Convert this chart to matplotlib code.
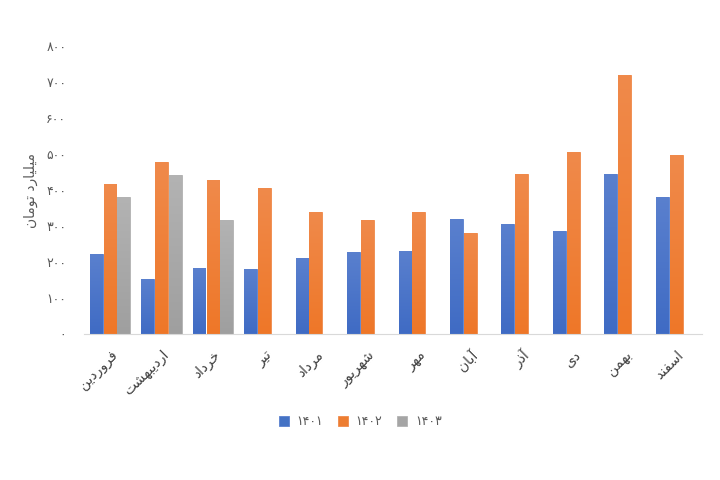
import numpy as np
import matplotlib
matplotlib.use('Agg')
import matplotlib.pyplot as plt
from matplotlib.colors import LinearSegmentedColormap

# ماه‌ها و مقادیر (میلیارد تومان)
months = ['فروردین', 'اردیبهشت', 'خرداد', 'تیر', 'مرداد', 'شهریور',
          'مهر', 'آبان', 'آذر', 'دی', 'بهمن', 'اسفند']
v1401 = [222, 154, 184, 180, 211, 228, 231, 319, 306, 286, 444, 381]
v1402 = [418, 479, 429, 406, 339, 318, 339, 281, 444, 505, 719, 498]
v1403 = [381, 442, 318, np.nan, np.nan, np.nan, np.nan, np.nan, np.nan, np.nan, np.nan, np.nan]
series_names = ['1401', '1402', '1403']
yticks = [0, 100, 200, 300, 400, 500, 600, 700, 800]
ylabel = 'میلیارد تومان'

# شکل‌دهی ساده حروف فارسی (matplotlib خودش اتصال حروف را انجام نمی‌دهد)
FORMS = {
    'آ': (0xFE81, 0xFE82), 'ا': (0xFE8D, 0xFE8E),
    'د': (0xFEA9, 0xFEAA), 'ذ': (0xFEAB, 0xFEAC),
    'ر': (0xFEAD, 0xFEAE), 'و': (0xFEED, 0xFEEE),
    'ب': (0xFE8F, 0xFE90, 0xFE91, 0xFE92), 'ت': (0xFE95, 0xFE96, 0xFE97, 0xFE98),
    'خ': (0xFEA5, 0xFEA6, 0xFEA7, 0xFEA8), 'س': (0xFEB1, 0xFEB2, 0xFEB3, 0xFEB4),
    'ش': (0xFEB5, 0xFEB6, 0xFEB7, 0xFEB8), 'ف': (0xFED1, 0xFED2, 0xFED3, 0xFED4),
    'ل': (0xFEDD, 0xFEDE, 0xFEDF, 0xFEE0), 'م': (0xFEE1, 0xFEE2, 0xFEE3, 0xFEE4),
    'ن': (0xFEE5, 0xFEE6, 0xFEE7, 0xFEE8), 'ه': (0xFEE9, 0xFEEA, 0xFEEB, 0xFEEC),
    'ی': (0xFEEF, 0xFEF0, 0xFEF3, 0xFEF4),
}


def shape(text):
    out = []
    for i, ch in enumerate(text):
        if ch not in FORMS:
            out.append(ch)
            continue
        f = FORMS[ch]
        prev = text[i - 1] if i > 0 else ''
        nxt = text[i + 1] if i + 1 < len(text) else ''
        jp = prev in FORMS and len(FORMS[prev]) == 4
        jn = len(f) == 4 and nxt in FORMS
        if jp and jn:
            out.append(chr(f[3]))
        elif jn:
            out.append(chr(f[2]))
        elif jp:
            out.append(chr(f[1]))
        else:
            out.append(chr(f[0]))
    return ''.join(out)[::-1]


def fa_digits(s):
    return str(s).translate(str.maketrans('0123456789', '۰۱۲۳۴۵۶۷۸۹'))


plt.rcParams['font.family'] = ['DejaVu Sans']

fig = plt.figure(figsize=(7.2, 4.8), dpi=100)
ax = fig.add_axes([0.117, 0.304, 0.858, 0.600])

x = np.arange(len(months))
w = 0.25
step = 0.27
colors = ['#4472C4', '#ED7D31', '#A5A5A5']
# گرادیان ملایم عمودی میله‌ها (پایین تیره‌تر، بالا روشن‌تر)
grads = [('#3F6BC4', '#5A80CE'), ('#EE7728', '#F08A4B'), ('#9F9F9F', '#B3B3B3')]
grad = np.linspace(0, 1, 256).reshape(-1, 1)

for k, (vals, c) in enumerate(zip([v1401, v1402, v1403], colors)):
    bars = ax.bar(x + (k - 1) * step, vals, width=w, color=c,
                  edgecolor=grads[k][1], linewidth=0.6,
                  label=fa_digits(series_names[k]))
    cmap = LinearSegmentedColormap.from_list('g%d' % k, grads[k])
    for b in bars:
        h = b.get_height()
        if not np.isfinite(h):
            continue
        x0 = b.get_x()
        im = ax.imshow(grad, cmap=cmap, origin='lower', aspect='auto',
                       extent=[x0, x0 + b.get_width(), 0, h], zorder=b.get_zorder())
        im.set_clip_path(b)

ax.set_xlim(-0.5, len(months) - 0.5)
ax.set_ylim(0, 800)
ax.set_yticks(yticks)
ax.set_yticklabels([fa_digits(t) for t in yticks], color='#595959', fontsize=9)
ax.set_xticks(x)
ax.set_xticklabels([shape(m) for m in months], rotation=45, ha='right',
                   va='top', rotation_mode='anchor', fontsize=10, color='#404040')
ax.tick_params(axis='both', length=0)
ax.tick_params(axis='y', pad=13)
ax.tick_params(axis='x', pad=10)
for s in ['top', 'right', 'left']:
    ax.spines[s].set_visible(False)
ax.spines['bottom'].set_color('#D9D9D9')

ax.set_ylabel(shape(ylabel), color='#595959', fontsize=10, labelpad=6)

ax.legend(loc='center', bbox_to_anchor=(0.447, -0.305), ncol=3, frameon=False,
          fontsize=9, handlelength=0.8, handleheight=0.8, columnspacing=1.2,
          handletextpad=0.6, labelcolor='#595959')

fig.savefig('out.png', dpi=100, facecolor='white')
